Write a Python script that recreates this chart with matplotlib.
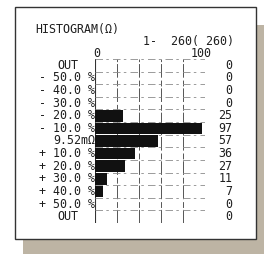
import matplotlib
matplotlib.use("Agg")
import matplotlib.pyplot as plt
from matplotlib.patches import Rectangle

# data
row_labels = ["OUT", "- 50.0 %", "- 40.0 %", "- 30.0 %", "- 20.0 %", "- 10.0 %",
              "9.52m\u03a9", "+ 10.0 %", "+ 20.0 %", "+ 30.0 %", "+ 40.0 %",
              "+ 50.0 %", "OUT"]
counts = [0, 0, 0, 0, 25, 97, 57, 36, 27, 11, 7, 0, 0]
title = "HISTOGRAM(\u03a9)"
range_text = "1-  260( 260)"
grid_ticks = [20, 40, 60, 80, 100]

W, H = 264, 260
fig = plt.figure(figsize=(W / 100, H / 100), dpi=100)
fig.patch.set_facecolor("white")


def fx(px):
    return px / W


def fy(py):
    return 1 - py / H


# shadow and paper box
fig.patches.append(Rectangle((fx(23), fy(254)), fx(264) - fx(23), fy(25) - fy(254),
                             transform=fig.transFigure, facecolor="#bdb4a4",
                             edgecolor="none", zorder=0))
fig.patches.append(Rectangle((fx(15), fy(239)), fx(256) - fx(15), fy(7) - fy(239),
                             transform=fig.transFigure, facecolor="white",
                             edgecolor="#333333", linewidth=1.0, zorder=1))

mono = "DejaVu Sans Mono"
fs = 8.4
tc = "#1e1e1e"

ax = fig.add_axes([fx(95), fy(223), fx(205) - fx(95), fy(59) - fy(223)])
ax.set_facecolor("none")
ax.set_zorder(2)
n = len(counts)
ax.set_xlim(0, 100)
ax.set_ylim(n - 0.5, -0.5)
for s in ax.spines.values():
    s.set_visible(False)
ax.set_xticks([])
ax.set_yticks([])

# grid
for g in grid_ticks:
    ax.axvline(g, color="#555555", lw=0.7, ls=(0, (14, 2, 6, 3)), zorder=1)
ax.axvline(0, color="#333333", lw=0.8, zorder=1)
for i in range(n + 1):
    ax.axhline(i - 0.5, color="#8a8a8a", lw=0.6, ls=(0, (9, 4, 3, 5)), zorder=1)

ax.barh(range(n), counts, height=0.92, color="#111111", zorder=3)

# labels
tr = ax.get_yaxis_transform()
for i, (lab, c) in enumerate(zip(row_labels, counts)):
    x0 = -0.15 if lab == "OUT" else 0.0
    ax.text(x0, i, lab, transform=tr, ha="right", va="center",
            fontsize=fs, family=mono, color=tc)
    ax.text(1.25, i, str(c), transform=tr, ha="right", va="center",
            fontsize=fs, family=mono, color=tc)

fig.text(fx(35), fy(29), title, ha="left", va="center", fontsize=fs,
         family=mono, color=tc)
fig.text(fx(234), fy(41), range_text, ha="right", va="center", fontsize=fs,
         family=mono, color=tc)
fig.text(fx(97), fy(53.5), "0", ha="center", va="center", fontsize=fs,
         family=mono, color=tc)
fig.text(fx(201), fy(53.5), "100", ha="center", va="center", fontsize=fs,
         family=mono, color=tc)

fig.savefig("out.png", dpi=100)
